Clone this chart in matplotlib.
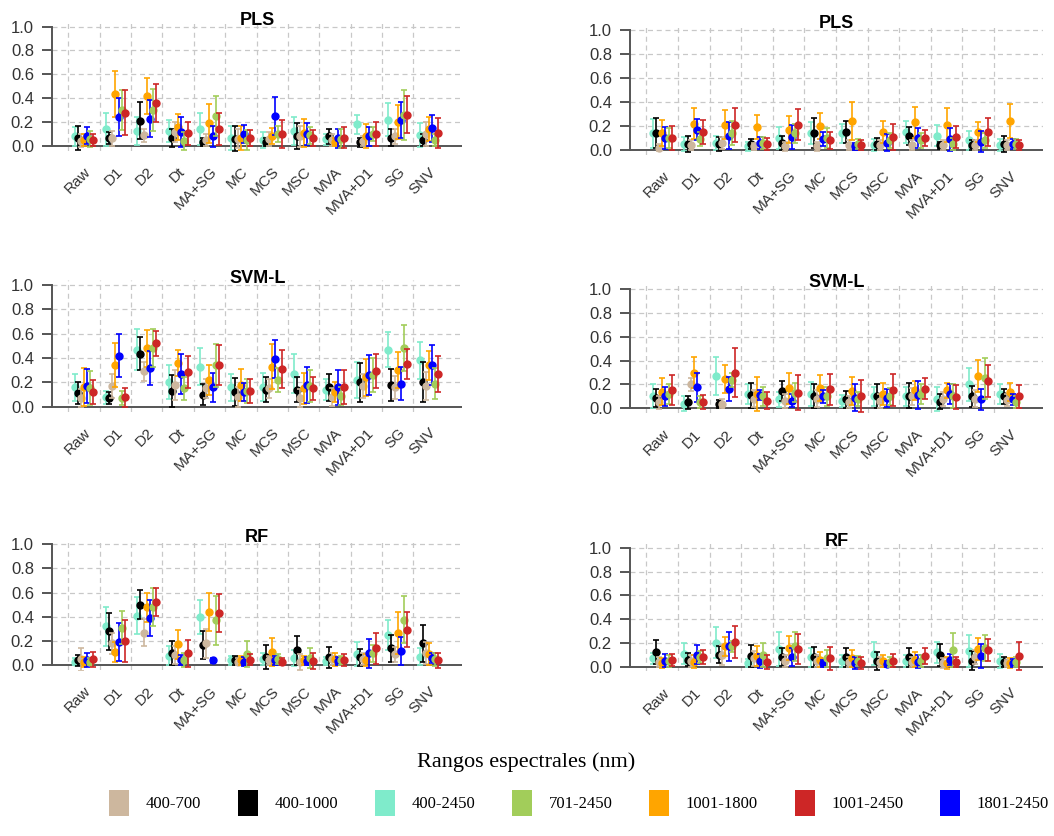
import numpy as np
import matplotlib
matplotlib.use("Agg")
import matplotlib.pyplot as plt
from matplotlib.patches import Patch

# Categories (pretreatments) shown on the x axis
categories = ["Raw", "D1", "D2", "Dt", "MA+SG", "MC", "MCS", "MSC",
              "MVA", "MVA+D1", "SG", "SNV"]

# Spectral ranges, in the order they are dodged inside each group
plot_ranges = ["400-2450", "400-1000", "400-700", "1001-1800",
               "1801-2450", "701-2450", "1001-2450"]
# Order used in the legend
legend_ranges = ["400-700", "400-1000", "400-2450", "701-2450",
                 "1001-1800", "1001-2450", "1801-2450"]

range_colors = {
    "400-700": "#CDB79E",
    "400-1000": "#000000",
    "400-2450": "#7FEBCB",
    "701-2450": "#A2CD5A",
    "1001-1800": "#FFA500",
    "1001-2450": "#CD2626",
    "1801-2450": "#0000FF",
}

# Means and half error bars, rows follow plot_ranges
pls_left_mean = [
    [.08, .14, .125, .125, .14, .07, .05, .125, .055, .18, .22, .09],
    [.07, .064, .21, .07, .036, .06, .036, .085, .08, .03, .07, .05],
    [.045, .064, .09, .12, .05, .06, .06, .08, .05, .04, .08, .10],
    [.05, .435, .42, .16, .19, .07, .085, .11, .035, .085, .20, .14],
    [.086, .24, .23, .115, .08, .10, .25, .10, .065, .08, .22, .148],
    [.06, .30, .30, .045, .25, .05, .10, .09, .06, .10, .26, .05],
    [.05, .28, .36, .105, .14, .065, .10, .065, .07, .10, .26, .11],
]
pls_left_err = [
    [.08, .14, .12, .09, .135, .10, .07, .115, .045, .08, .14, .10],
    [.10, .05, .155, .075, .035, .105, .035, .11, .06, .04, .07, .05],
    [.055, .06, .055, .085, .05, .08, .06, .09, .05, .04, .06, .10],
    [.05, .195, .15, .11, .165, .10, .065, .12, .035, .10, .14, .10],
    [.07, .16, .155, .125, .085, .075, .16, .095, .08, .08, .15, .115],
    [.065, .17, .175, .075, .17, .08, .07, .07, .08, .06, .21, .05],
    [.05, .185, .16, .10, .135, .065, .115, .065, .085, .10, .155, .125],
]

pls_right_mean = [
    [.14, .05, .06, .03, .10, .14, .14, .04, .15, .12, .08, .04],
    [.14, .05, .05, .05, .06, .14, .15, .05, .12, .04, .04, .05],
    [.02, .04, .06, .03, .03, .03, .04, .04, .04, .04, .04, .04],
    [.14, .22, .21, .19, .17, .20, .24, .15, .23, .21, .15, .24],
    [.10, .17, .12, .06, .11, .09, .03, .06, .10, .09, .07, .05],
    [.10, .09, .14, .06, .14, .10, .05, .08, .08, .05, .08, .05],
    [.10, .15, .21, .05, .21, .08, .04, .11, .10, .11, .15, .04],
]
pls_right_err = [
    [.12, .06, .06, .04, .09, .09, .08, .05, .09, .09, .08, .05],
    [.125, .07, .055, .045, .06, .125, .09, .05, .075, .03, .04, .065],
    [.03, .04, .05, .03, .04, .04, .04, .04, .04, .04, .04, .04],
    [.11, .13, .12, .10, .11, .11, .16, .09, .13, .14, .08, .14],
    [.095, .09, .11, .05, .10, .06, .03, .07, .08, .095, .085, .04],
    [.08, .06, .10, .05, .08, .08, .04, .06, .06, .05, .06, .04],
    [.10, .10, .14, .05, .13, .07, .04, .11, .07, .09, .115, .04],
]

svm_left_mean = [
    [.16, .077, .47, .20, .33, .16, .16, .27, .14, .22, .47, .38],
    [.115, .07, .435, .13, .10, .12, .14, .14, .16, .20, .18, .20],
    [.07, .17, .29, .18, .15, .08, .15, .07, .08, .17, .16, .17],
    [.16, .34, .48, .36, .22, .18, .33, .15, .12, .24, .30, .34],
    [.17, .42, .32, .27, .16, .12, .39, .18, .16, .26, .19, .345],
    [.15, .07, .48, .15, .34, .13, .22, .17, .09, .26, .48, .19],
    [.12, .077, .52, .285, .34, .13, .31, .15, .16, .29, .35, .27],
]
svm_left_err = [
    [.11, .055, .17, .14, .15, .11, .115, .16, .085, .15, .145, .155],
    [.09, .05, .135, .13, .085, .115, .105, .105, .11, .16, .13, .165],
    [.075, .10, .08, .125, .075, .08, .08, .075, .075, .10, .095, .115],
    [.155, .18, .15, .11, .125, .13, .185, .13, .08, .15, .15, .12],
    [.14, .175, .14, .165, .12, .075, .155, .15, .145, .165, .135, .165],
    [.14, .055, .155, .095, .175, .10, .10, .13, .075, .14, .19, .125],
    [.10, .078, .105, .135, .165, .10, .155, .095, .14, .14, .125, .15],
]

svm_right_mean = [
    [.10, .04, .27, .12, .075, .12, .06, .10, .10, .08, .20, .12],
    [.09, .05, .035, .11, .145, .10, .075, .10, .105, .055, .10, .10],
    [.05, .20, .04, .08, .06, .08, .05, .06, .10, .08, .08, .07],
    [.14, .30, .245, .12, .17, .17, .145, .12, .15, .15, .27, .14],
    [.10, .175, .16, .11, .065, .10, .09, .085, .11, .12, .075, .075],
    [.12, .05, .24, .10, .13, .10, .08, .10, .12, .10, .25, .05],
    [.155, .05, .30, .065, .13, .16, .105, .155, .165, .095, .23, .10],
]
svm_right_err = [
    [.10, .06, .16, .085, .06, .10, .05, .08, .08, .10, .14, .08],
    [.075, .055, .035, .105, .085, .10, .07, .10, .105, .065, .085, .06],
    [.055, .055, .04, .07, .06, .07, .05, .06, .07, .06, .07, .05],
    [.11, .13, .115, .145, .13, .11, .115, .09, .08, .065, .135, .075],
    [.08, .125, .10, .04, .055, .055, .115, .075, .115, .085, .09, .045],
    [.08, .05, .06, .08, .08, .08, .06, .07, .08, .10, .17, .05],
    [.125, .06, .205, .075, .145, .13, .135, .135, .085, .10, .135, .095],
]

rf_left_mean = [
    [.03, .32, .41, .08, .40, .04, .05, .06, .035, .095, .25, .07],
    [.04, .28, .50, .10, .17, .04, .07, .125, .065, .065, .14, .18],
    [.05, .18, .27, .085, .18, .03, .04, .03, .05, .05, .09, .10],
    [.03, .11, .48, .175, .44, .04, .11, .04, .05, .045, .265, .095],
    [.045, .19, .39, .044, .04, .03, .04, .035, .035, .10, .115, .06],
    [.03, .31, .48, .044, .37, .095, .05, .06, .04, .10, .375, .05],
    [.05, .20, .52, .10, .43, .045, .03, .035, .045, .14, .295, .04],
]
rf_left_err = [
    [.03, .16, .15, .08, .14, .04, .05, .065, .035, .10, .12, .07],
    [.045, .15, .12, .10, .115, .04, .10, .12, .085, .07, .11, .155],
    [.095, .085, .115, .075, .12, .03, .04, .065, .05, .05, .06, .09],
    [.04, .085, .12, .12, .155, .035, .115, .04, .055, .05, .175, .09],
    [.055, .155, .145, .04, .02, .035, .04, .035, .035, .12, .115, .045],
    [.03, .135, .155, .055, .20, .105, .04, .08, .04, .07, .195, .055],
    [.06, .175, .115, .11, .155, .045, .03, .065, .05, .13, .145, .06],
]

rf_right_mean = [
    [.07, .11, .20, .03, .15, .08, .05, .11, .05, .12, .13, .05],
    [.125, .06, .10, .09, .08, .08, .08, .05, .08, .10, .05, .04],
    [.04, .05, .10, .07, .05, .05, .04, .04, .04, .03, .08, .03],
    [.03, .04, .17, .09, .16, .06, .07, .05, .06, .03, .15, .03],
    [.05, .10, .17, .05, .08, .03, .03, .02, .04, .06, .09, .03],
    [.05, .08, .17, .10, .17, .07, .05, .04, .05, .14, .16, .04],
    [.06, .08, .21, .04, .15, .07, .03, .05, .09, .04, .14, .09],
]
rf_right_err = [
    [.045, .09, .13, .035, .145, .08, .05, .095, .05, .085, .135, .06],
    [.10, .055, .07, .09, .075, .085, .08, .075, .08, .09, .08, .045],
    [.04, .05, .085, .06, .05, .05, .04, .04, .04, .04, .06, .03],
    [.04, .055, .08, .08, .10, .06, .07, .05, .06, .05, .09, .04],
    [.055, .08, .125, .06, .075, .03, .05, .025, .055, .045, .10, .035],
    [.05, .05, .05, .10, .12, .07, .04, .04, .05, .14, .11, .04],
    [.05, .06, .135, .06, .125, .095, .05, .055, .07, .04, .09, .115],
]

W, H = 1054, 836
SANS = ["Liberation Sans", "DejaVu Sans"]
SERIF = ["Liberation Serif", "DejaVu Serif"]


# Build an axes from pixel positions of the y=1 and y=0 lines
def add_panel(fig, x0, x1, y_one, y_zero):
    scale = y_zero - y_one
    top = y_one - 0.04 * scale
    bottom = y_zero + 0.04 * scale
    return fig.add_axes([x0 / W, 1 - bottom / H, (x1 - x0) / W, (bottom - top) / H])


def draw_panel(ax, title, means, errs):
    n = len(categories)
    ax.set_xlim(-0.52, 12.55)
    ax.set_ylim(-0.04, 1.04)

    # dashed grid, R style
    for xv in range(n):
        ax.axvline(xv, color="#c8c8c8", lw=0.9, ls=(0, (4, 3)), zorder=0)
    for yv in [0.2, 0.4, 0.6, 0.8, 1.0]:
        ax.axhline(yv, color="#c8c8c8", lw=0.9, ls=(0, (4, 3)), zorder=0)
    ax.axhline(0, color="#555555", lw=1.4, zorder=1)

    x = np.arange(n)
    for k, rng in enumerate(plot_ranges):
        col = range_colors[rng]
        ax.errorbar(x + 0.2 + 0.1 * k, means[k], yerr=errs[k], fmt="o",
                    color=col, ecolor=col, ms=5, elinewidth=1.2,
                    capsize=2.2, capthick=1.2, zorder=2 + k)

    for side in ["top", "right", "bottom"]:
        ax.spines[side].set_visible(False)
    ax.spines["left"].set_bounds(0, 1)
    ax.spines["left"].set_color("#555555")
    ax.spines["left"].set_linewidth(1.4)

    ax.set_yticks([0, 0.2, 0.4, 0.6, 0.8, 1.0])
    ax.set_yticklabels(["0.0", "0.2", "0.4", "0.6", "0.8", "1.0"],
                       fontsize=12, color="#333333", family=SANS)
    ax.tick_params(axis="y", length=7, width=1.4, color="#555555", pad=6)

    ax.set_xticks(x + 0.5)
    ax.set_xticklabels(categories, rotation=45, ha="right",
                       rotation_mode="anchor", fontsize=11,
                       color="#333333", family=SANS)
    ax.tick_params(axis="x", length=0, pad=10)

    ax.text(6.02, 1.015, title, ha="center", va="baseline", fontsize=13,
            fontweight="bold", family=SANS)


def main():
    fig = plt.figure(figsize=(W / 100, H / 100), dpi=100)

    panels = [
        ((52, 462, 26.5, 146), "PLS", pls_left_mean, pls_left_err),
        ((630, 1043, 30, 150), "PLS", pls_right_mean, pls_right_err),
        ((52, 462, 285, 406.7), "SVM-L", svm_left_mean, svm_left_err),
        ((630, 1043, 289, 408.3), "SVM-L", svm_right_mean, svm_right_err),
        ((52, 462, 544, 665.3), "RF", rf_left_mean, rf_left_err),
        ((630, 1043, 547.7, 666.7), "RF", rf_right_mean, rf_right_err),
    ]
    for pos, title, means, errs in panels:
        ax = add_panel(fig, *pos)
        draw_panel(ax, title, means, errs)

    fig.text(526 / W, 1 - 762 / H, "Rangos espectrales (nm)", ha="center",
             va="center", fontsize=16, family=SERIF)

    handles = [Patch(facecolor=range_colors[r], edgecolor="none") for r in legend_ranges]
    fig.legend(handles, legend_ranges, loc="center right", ncol=7,
               bbox_to_anchor=(1.0, 1 - 803 / H), frameon=False,
               handlelength=1.2, handleheight=2.1, handletextpad=1.0,
               columnspacing=2.2, borderpad=0.2, borderaxespad=0.1,
               prop={"family": SERIF, "size": 12})

    fig.savefig("out.png", dpi=100)


if __name__ == "__main__":
    main()
